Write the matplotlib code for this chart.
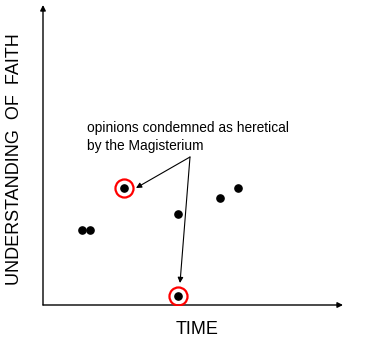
import matplotlib
matplotlib.use("Agg")
import matplotlib.pyplot as plt

plt.rcParams['font.family'] = ['Liberation Sans', 'DejaVu Sans']

# data (arbitrary units, origin at axes corner)
time_vals = [39, 47, 81, 135, 135, 177, 195]
understanding_vals = [75, 75, 117, 91, 9, 107, 117]
heretical_idx = [2, 4]

annot_text = "opinions condemned as heretical\nby the Magisterium"
annot_origin = (147, 148)
xlabel = "TIME"
ylabel = "UNDERSTANDING  OF  FAITH"

fig = plt.figure(figsize=(3.9, 3.6), dpi=100)
ax = fig.add_axes([43/390, 55/360, 300/390, 300/360])
ax.set_xlim(0, 300)
ax.set_ylim(0, 300)
ax.axis('off')

# axes arrows
ax.annotate('', xy=(300, 0), xytext=(0, 0),
            arrowprops=dict(arrowstyle='-|>', color='black', lw=1, mutation_scale=8,
                            shrinkA=0, shrinkB=0))
ax.annotate('', xy=(0, 300), xytext=(0, 0),
            arrowprops=dict(arrowstyle='-|>', color='black', lw=1, mutation_scale=8,
                            shrinkA=0, shrinkB=0))

ax.plot(time_vals, understanding_vals, 'o', color='black', markersize=5.2, zorder=3)
ax.plot([time_vals[i] for i in heretical_idx], [understanding_vals[i] for i in heretical_idx],
        'o', markerfacecolor='none', markeredgecolor='red', markersize=13, markeredgewidth=1.6,
        zorder=3)

# annotation arrows
targets = [(time_vals[2] + 12, understanding_vals[2]), (time_vals[4] + 2, understanding_vals[4] + 13)]
for t in targets:
    ax.annotate('', xy=t, xytext=annot_origin,
                arrowprops=dict(arrowstyle='-|>', color='black', lw=0.8, mutation_scale=8,
                                shrinkA=0, shrinkB=0))

ax.text(44, 184, annot_text, fontsize=9.95, ha='left', va='top', linespacing=1.4)

fig.text(197/390, 1 - 330/360, xlabel, fontsize=13, ha='center', va='center')
fig.text(15/390, 1 - 159/360, ylabel, fontsize=13, ha='center', va='center', rotation=90)

fig.savefig('out.png', dpi=100, facecolor='white')
